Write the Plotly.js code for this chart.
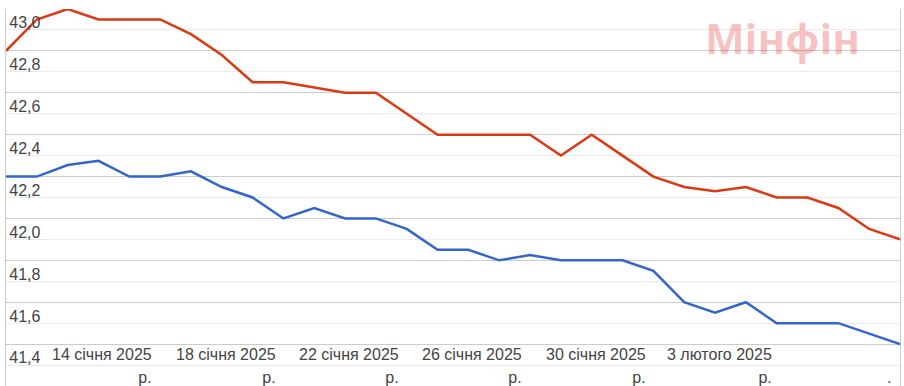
<!DOCTYPE html>
<html>
<head>
<meta charset="utf-8">
<script src="https://cdn.plot.ly/plotly-3.0.1.min.js"></script>
<style>
  html, body { margin: 0; padding: 0; background: #ffffff; }
  #chart { width: 904px; height: 386px; }
</style>
</head>
<body>
<div id="chart"></div>
<script>
// ---- data ----
const dates = [
  "2025-01-11","2025-01-12","2025-01-13","2025-01-14","2025-01-15","2025-01-16",
  "2025-01-17","2025-01-18","2025-01-19","2025-01-20","2025-01-21","2025-01-22",
  "2025-01-23","2025-01-24","2025-01-25","2025-01-26","2025-01-27","2025-01-28",
  "2025-01-29","2025-01-30","2025-01-31","2025-02-01","2025-02-02","2025-02-03",
  "2025-02-04","2025-02-05","2025-02-06","2025-02-07","2025-02-08","2025-02-09"
];
const sellRates = [
  42.90, 43.05, 43.10, 43.05, 43.05, 43.05, 42.98, 42.88, 42.75, 42.75,
  42.725, 42.70, 42.70, 42.60, 42.50, 42.50, 42.50, 42.50, 42.40, 42.50,
  42.40, 42.30, 42.25, 42.23, 42.25, 42.20, 42.20, 42.15, 42.05, 42.00
];
const buyRates = [
  42.30, 42.30, 42.355, 42.375, 42.30, 42.30, 42.325, 42.25, 42.20, 42.10,
  42.15, 42.10, 42.10, 42.05, 41.95, 41.95, 41.90, 41.925, 41.90, 41.90,
  41.90, 41.85, 41.70, 41.65, 41.70, 41.60, 41.60, 41.60, 41.55, 41.50
];
const xLabelDates = ["2025-01-14","2025-01-18","2025-01-22","2025-01-26","2025-01-30","2025-02-03"];
const xLabelMain  = ["14 січня 2025","18 січня 2025","22 січня 2025","26 січня 2025","30 січня 2025","3 лютого 2025"];
const xLabelTail  = ["р.","р.","р.","р.","р.","р."];
const cutLabelDate = "2025-02-07";
const cutLabelText = ".";
const watermark = "Мінфін";

// ---- chart ----
const traces = [
  { x: dates, y: sellRates, type: "scatter", mode: "lines",
    line: { color: "#dc3912", width: 2.5 }, hoverinfo: "skip" },
  { x: dates, y: buyRates, type: "scatter", mode: "lines",
    line: { color: "#3366cc", width: 2.5 }, hoverinfo: "skip" }
];

const labelFont = { family: "Arial, 'Liberation Sans', sans-serif", size: 18, color: "#444444" };
const annotations = xLabelDates.map((d, i) => ({
  x: d, xref: "x", y: 0, yref: "paper",
  xanchor: "center", yanchor: "bottom", xshift: 4, yshift: -2,
  align: "right", showarrow: false,
  text: "<span style='font-size:16px'>" + xLabelMain[i] + "</span><br><span style='font-size:16px'>" + xLabelTail[i] + "</span>",
  font: labelFont
}));
annotations.push({
  x: cutLabelDate, xref: "x", y: 0, yref: "paper",
  xanchor: "right", yanchor: "bottom", xshift: 55, yshift: -2,
  showarrow: false, text: "<span style='font-size:16px'>" + cutLabelText + "</span>",
  font: labelFont
});
annotations.push({
  x: 0.869, xref: "paper", y: 0.925, yref: "paper",
  xanchor: "center", yanchor: "middle", showarrow: false,
  text: "<b>" + watermark + "</b>",
  font: { family: "'Open Sans', 'Noto Sans', sans-serif", size: 42, color: "rgba(225,40,40,0.28)" }
});

const layout = {
  width: 904, height: 386,
  margin: { l: 6, r: 4, t: 9, b: 0, pad: 0 },
  paper_bgcolor: "#ffffff", plot_bgcolor: "#ffffff",
  showlegend: false,
  separators: ", ",
  hovermode: false,
  font: { family: "Arial, 'Liberation Sans', sans-serif", size: 16, color: "#444444" },
  xaxis: {
    type: "date", range: [dates[0], dates[dates.length - 1]],
    showgrid: false, zeroline: false, showticklabels: false, ticks: "",
    showline: false
  },
  yaxis: {
    range: [41.3, 43.1], tick0: 41.4, dtick: 0.2, tickformat: ".1f",
    ticklabelposition: "inside top", ticks: "",
    ticklabelstandoff: 3, ticklabelshift: 4,
    gridcolor: "#ebebeb", gridwidth: 1, zeroline: false,
    showline: true, mirror: true, linecolor: "#cccccc", linewidth: 1,
    tickfont: { size: 16, color: "#444444" },
    minor: { dtick: 0.1, tick0: 41.3, showgrid: true, gridcolor: "#cccccc", gridwidth: 1, ticks: "" }
  },
  annotations: annotations
};

Plotly.newPlot("chart", traces, layout, { displayModeBar: false, staticPlot: true });
</script>
</body>
</html>
